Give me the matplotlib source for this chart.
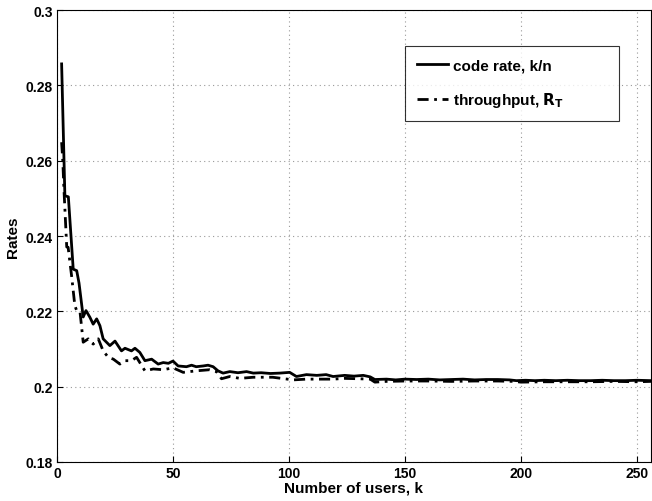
import matplotlib
matplotlib.use("Agg")
import matplotlib.pyplot as plt

# code rate k/n (solid)
rate_k = [2, 3.4, 4.9, 7, 8.5, 9.5, 11.3, 12.5, 14.2, 15.6, 17.1, 18.5, 19.9,
          22.8, 25, 27.8, 29.3, 32.1, 33.6, 35.7, 37.9, 40.8, 43.6, 45.8, 48,
          50, 52.2, 55.8, 58, 60, 63, 65.1, 67.3, 69.4, 71.6, 74.5, 78, 81.7,
          84.6, 88, 92, 96, 100.3, 103.2, 107.5, 112, 116, 119, 124, 128, 132,
          135, 137, 142, 146, 150, 155, 160, 165, 170, 175, 180, 185, 190, 195,
          198, 202, 206, 210, 215, 220, 225, 230, 235, 240, 245, 250, 256]
rate_v = [0.2857, 0.2507, 0.2504, 0.2312, 0.2308, 0.2275, 0.2185, 0.2202,
          0.2184, 0.2166, 0.2180, 0.2162, 0.2127, 0.2109, 0.2121, 0.2095,
          0.2102, 0.2095, 0.2102, 0.2091, 0.2069, 0.2073, 0.2060, 0.2064,
          0.2062, 0.2068, 0.2055, 0.2053, 0.2057, 0.2053, 0.2055, 0.2057,
          0.2053, 0.2042, 0.2036, 0.2040, 0.2037, 0.2040, 0.2036, 0.2037,
          0.2035, 0.2036, 0.2038, 0.2027, 0.2032, 0.2030, 0.2032, 0.2027,
          0.2030, 0.2028, 0.2030, 0.2026, 0.2019, 0.2020, 0.2018, 0.2020,
          0.2019, 0.2020, 0.2018, 0.2019, 0.2020, 0.2018, 0.2019, 0.2019,
          0.2018, 0.2016, 0.2017, 0.2016, 0.2017, 0.2016, 0.2017, 0.2016,
          0.2016, 0.2017, 0.2016, 0.2016, 0.2017, 0.2016]

# throughput R_T (dash-dot)
thr_k = [2, 2.5, 3, 4.2, 4.8, 6.3, 7.7, 8.5, 9.9, 11.3, 13.5, 15.6, 17.8,
         19.9, 22.1, 24.3, 27.1, 29.3, 32.1, 34.3, 35.7, 37.9, 41.5, 45.8, 50,
         54.4, 60, 65.8, 68.7, 70.9, 74.5, 78.8, 84.6, 93, 101.8, 107.5, 113,
         119, 124, 130, 135, 137, 142, 150, 160, 170, 180, 190, 197, 200, 210,
         220, 230, 240, 250, 256]
thr_v = [0.2649, 0.2600, 0.2524, 0.2371, 0.2370, 0.2294, 0.2215, 0.2202,
         0.2200, 0.2118, 0.2127, 0.2113, 0.2127, 0.2095, 0.2078, 0.2073,
         0.2060, 0.2069, 0.2069, 0.2078, 0.2064, 0.2042, 0.2047, 0.2045,
         0.2050, 0.2038, 0.2042, 0.2045, 0.2040, 0.2021, 0.2027, 0.2022,
         0.2025, 0.2025, 0.2018, 0.2020, 0.2020, 0.2020, 0.2022, 0.2021,
         0.2020, 0.2012, 0.2014, 0.2015, 0.2015, 0.2014, 0.2015, 0.2015,
         0.2014, 0.2012, 0.2013, 0.2013, 0.2013, 0.2014, 0.2013, 0.2014]

x_ticks = [0, 50, 100, 150, 200, 250]
y_ticks = [0.18, 0.2, 0.22, 0.24, 0.26, 0.28, 0.3]
y_labels = ["0.18", "0.2", "0.22", "0.24", "0.26", "0.28", "0.3"]

plt.rcParams["font.family"] = ["Liberation Sans", "DejaVu Sans"]
plt.rcParams["font.weight"] = "bold"

fig = plt.figure(figsize=(6.52, 5.02), dpi=100)
ax = fig.add_axes([0.0874, 0.0777, 0.911, 0.9003])

ax.plot(rate_k, rate_v, color="black", lw=2.0, label="code rate, k/n")
ax.plot(thr_k, thr_v, color="black", lw=2.0, linestyle=(0, (4, 2, 1, 2)),
        label="throughput, $\\mathbf{R_T}$")

ax.set_xlim(0, 256)
ax.set_ylim(0.18, 0.3)
ax.set_xticks(x_ticks)
ax.set_yticks(y_ticks)
ax.set_yticklabels(y_labels)
ax.tick_params(direction="in", length=4, width=0.8, labelsize=10, pad=3)
for lab in ax.get_xticklabels() + ax.get_yticklabels():
    lab.set_fontweight("bold")

ax.grid(True, linestyle=(0, (1, 3)), color="#999999", lw=0.8)
for sp in ax.spines.values():
    sp.set_linewidth(0.8)

ax.set_xlabel("Number of users, k", fontsize=11, fontweight="bold", labelpad=0)
ax.set_ylabel("Rates", fontsize=11, fontweight="bold", labelpad=4)

# legend box stretched to the wide MATLAB-style frame
leg = ax.legend(loc="upper left", bbox_to_anchor=(0.586, 0.754, 0.36, 0.166),
                mode="expand", borderaxespad=0, frameon=True, fancybox=False,
                edgecolor="black", handlelength=2.0, handletextpad=0.35,
                borderpad=0.8, labelspacing=1.15,
                prop={"weight": "bold", "size": 11})
leg.get_frame().set_linewidth(0.8)

fig.savefig("out.png", dpi=100)
